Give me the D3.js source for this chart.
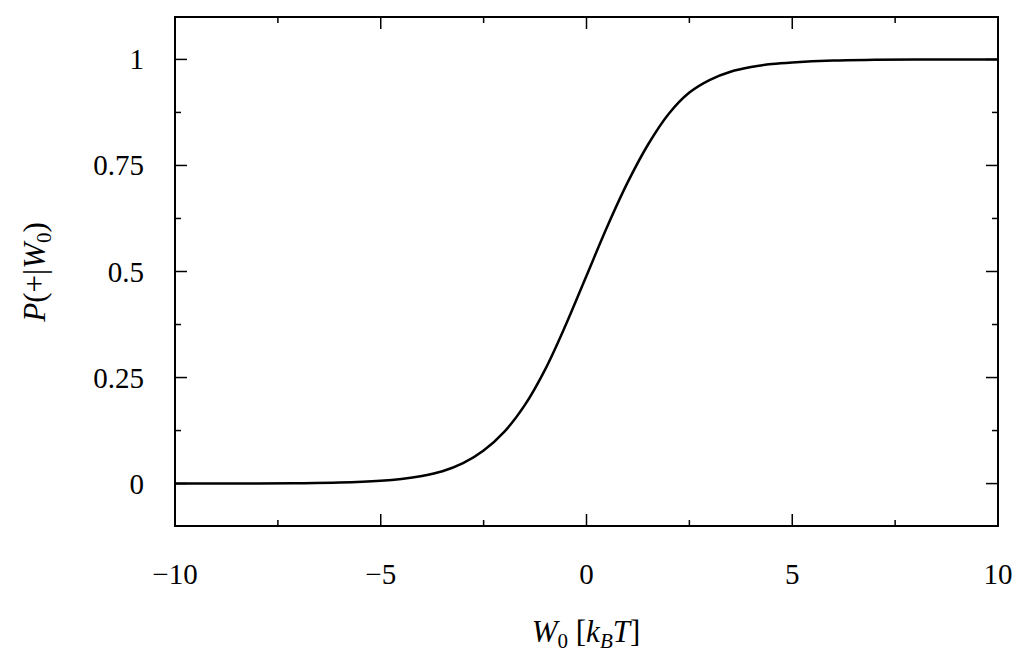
<!DOCTYPE html><html><head><script src="https://cdn.jsdelivr.net/npm/d3@7"></script>
<style>body{margin:0;background:#fff}text{font-family:"Liberation Serif","DejaVu Serif",serif;fill:#000}</style></head><body>
<svg id="c" width="1024" height="671"></svg>
<script>
const xs=[-10,-9,-8,-7,-6,-5,-4.5,-4,-3.5,-3,-2.5,-2,-1.5,-1,-0.5,0,0.5,1,1.5,2,2.5,3,3.5,4,4.5,5,6,7,8,9,10];
const ys=[0.0001,0.0001,0.0003,0.0009,0.0025,0.0068,0.011,0.018,0.029,0.048,0.078,0.122,0.185,0.27,0.375,0.49,0.605,0.71,0.80,0.872,0.922,0.952,0.971,0.982,0.989,0.993,0.9975,0.999,0.9997,0.9999,1];
const xTicks=[-10,-5,0,5,10], xLabels=["\u221210","\u22125","0","5","10"];
const yTicks=[0,0.25,0.5,0.75,1], yLabels=["0","0.25","0.5","0.75","1"];
const svg=d3.select("#c");
const L=175,R=998,T=17,B=526;
const x=d3.scaleLinear().domain([-10,10]).range([L,R]);
const y=d3.scaleLinear().domain([-0.1,1.1]).range([B,T]);
const g=svg.append("g");
d3.range(-10,10.01,2.5).forEach(v=>{const M=v%5===0,l=M?12:6;
 [[B,-l],[T,l]].forEach(([yy,d])=>g.append("line").attr("x1",x(v)).attr("x2",x(v)).attr("y1",yy).attr("y2",yy+d).attr("stroke","#000").attr("stroke-width",1.5));});
d3.range(-0.125,1.126,0.125).filter(v=>v>=-0.1&&v<=1.1).forEach(v=>{const M=Math.abs(v/0.25-Math.round(v/0.25))<1e-6,l=M?12:6;
 [[L,l],[R,-l]].forEach(([xx,d])=>g.append("line").attr("y1",y(v)).attr("y2",y(v)).attr("x1",xx).attr("x2",xx+d).attr("stroke","#000").attr("stroke-width",1.5));});
xTicks.forEach((v,i)=>g.append("text").attr("x",x(v)).attr("y",584).attr("text-anchor","middle").attr("font-size",29).text(xLabels[i]));
yTicks.forEach((v,i)=>g.append("text").attr("x",144).attr("y",y(v)+10).attr("text-anchor","end").attr("font-size",29).text(yLabels[i]));
g.append("rect").attr("x",L).attr("y",T).attr("width",R-L).attr("height",B-T).attr("fill","none").attr("stroke","#000").attr("stroke-width",2);
svg.append("path").datum(xs.map((v,i)=>[v,ys[i]])).attr("fill","none").attr("stroke","#000").attr("stroke-width",2.5)
 .attr("d",d3.line().x(d=>x(d[0])).y(d=>y(d[1])).curve(d3.curveCatmullRom));
const xl=svg.append("text").attr("x",586).attr("y",642).attr("text-anchor","middle").attr("font-size",31);
xl.append("tspan").attr("font-style","italic").text("W");
xl.append("tspan").attr("font-size",21).attr("dy",6).text("0");
xl.append("tspan").attr("dy",-6).text(" [");
xl.append("tspan").attr("font-style","italic").text("k");
xl.append("tspan").attr("font-style","italic").attr("font-size",21).attr("dy",6).text("B");
xl.append("tspan").attr("font-style","italic").attr("dy",-6).text("T");
xl.append("tspan").text("]");
const yl=svg.append("text").attr("transform","translate(45,272) rotate(-90)").attr("text-anchor","middle").attr("font-size",31);
yl.append("tspan").attr("font-style","italic").text("P");
yl.append("tspan").text("(+|");
yl.append("tspan").attr("font-style","italic").text("W");
yl.append("tspan").attr("font-size",21).attr("dy",6).text("0");
yl.append("tspan").attr("dy",-6).text(")");
</script></body></html>
